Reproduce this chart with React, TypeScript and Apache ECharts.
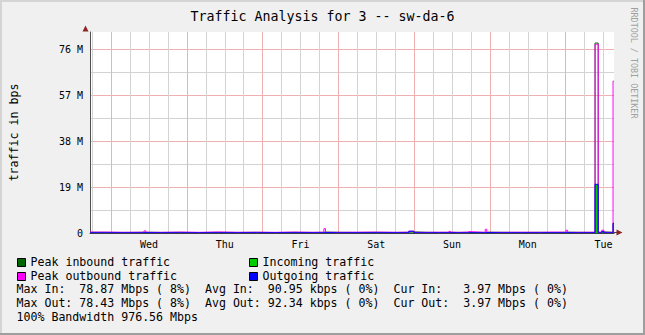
import { useEffect, useRef } from 'react';
import * as echarts from 'echarts';

const chartTitle = 'Traffic Analysis for 3 -- sw-da-6';
const yAxisName = 'traffic in bps';
const sideText = 'RRDTOOL / TOBI OETIKER';

// time in hours since Tuesday 00:00 of the first week
const hours = [17.3, 22, 28, 34.4, 35, 40, 46, 52, 58, 64, 70, 76, 82, 88, 91.4, 91.9, 96, 102, 108, 114, 118.3, 119.9, 124, 128, 131.0, 131.5, 134, 136.8, 137.3, 142.5, 143.0, 148, 154, 160, 164, 168.1, 168.6, 172, 177.3, 178.3, 179.4, 180.1, 183.0, 183.3];

// values in millions of bits per second
const peakIn = [0.3, 0.25, 0.3, 0.35, 0.25, 0.3, 0.2, 0.3, 0.25, 0.3, 0.2, 0.3, 0.25, 0.3, 0.4, 0.3, 0.25, 0.3, 0.25, 0.3, 0.5, 0.3, 0.25, 0.3, 0.35, 0.25, 0.3, 0.3, 0.25, 0.35, 0.3, 0.25, 0.3, 0.25, 0.3, 0.35, 0.3, 0.25, 82.7, 0.3, 0.5, 0.3, 4.3, 4.3];
const incoming = [0.1, 0.08, 0.1, 0.12, 0.09, 0.1, 0.08, 0.1, 0.09, 0.1, 0.08, 0.1, 0.09, 0.1, 0.12, 0.1, 0.09, 0.1, 0.09, 0.1, 0.2, 0.1, 0.09, 0.1, 0.11, 0.09, 0.1, 0.1, 0.09, 0.12, 0.1, 0.09, 0.1, 0.09, 0.1, 0.12, 0.1, 0.09, 21.2, 0.1, 0.3, 0.1, 4.16, 4.16];
const peakOut = [0.4, 0.3, 0.35, 0.9, 0.3, 0.4, 0.3, 0.45, 0.3, 0.35, 0.3, 0.4, 0.3, 0.35, 1.9, 0.3, 0.35, 0.4, 0.3, 0.35, 0.8, 0.3, 0.35, 0.3, 0.7, 0.3, 0.35, 0.6, 0.3, 1.6, 0.3, 0.35, 0.3, 0.4, 0.35, 1.2, 0.3, 0.35, 82.2, 0.3, 1.2, 0.3, 66.1, 66.1];
const outgoing = [0.1, 0.09, 0.1, 0.15, 0.1, 0.1, 0.09, 0.12, 0.1, 0.11, 0.1, 0.12, 0.1, 0.1, 0.2, 0.1, 0.1, 0.11, 0.1, 0.1, 0.75, 0.1, 0.1, 0.1, 0.15, 0.1, 0.1, 0.12, 0.1, 0.2, 0.1, 0.1, 0.1, 0.11, 0.1, 0.15, 0.1, 0.1, 21.2, 0.1, 0.6, 0.1, 4.16, 4.16];

// grid lines every 6 hours; midnights are major
const gridHours = [18, 24, 30, 36, 42, 48, 54, 60, 66, 72, 78, 84, 90, 96, 102, 108, 114, 120, 126, 132, 138, 144, 150, 156, 162, 168, 174, 180];
const dayNoonHours = [36, 60, 84, 108, 132, 156, 180];
const dayLabels = ['Wed', 'Thu', 'Fri', 'Sat', 'Sun', 'Mon', 'Tue'];

const legendLabels = ['Peak inbound traffic', 'Incoming traffic', 'Peak outbound traffic', 'Outgoing traffic'];
const legendColors = ['#006600', '#00CC00', '#FF00FF', '#0000FF'];
const statLines = [
  'Max In:  78.87 Mbps ( 8%)  Avg In:  90.95 kbps ( 0%)  Cur In:   3.97 Mbps ( 0%)',
  'Max Out: 78.43 Mbps ( 8%)  Avg Out: 92.34 kbps ( 0%)  Cur Out:  3.97 Mbps ( 0%)',
  '100% Bandwidth 976.56 Mbps',
];

export default function App() {
  const ref = useRef<HTMLDivElement>(null);
  useEffect(() => {
    const chart = echarts.init(ref.current!, null, { renderer: 'svg' });
    const mono = 'DejaVu Sans Mono';
    const red = '#EEB0B0';
    const gray = '#D3D3D3';
    const axisColor = '#404048';
    const arrowColor = '#8E2424';
    const xy = (vals: number[]) => hours.map((h, i) => [h, vals[i]]);

    const legendGraphics: any[] = [];
    const rowY0 = 261.7;
    const rowH = 13.8;
    legendLabels.forEach((label, i) => {
      const col = i % 2;
      const row = Math.floor(i / 2);
      const bx = col === 0 ? 17 : 249;
      const cy = rowY0 + row * rowH;
      legendGraphics.push({
        type: 'rect',
        shape: { x: bx + 0.5, y: Math.round(cy - 4) + 0.5, width: 8, height: 8 },
        style: { fill: legendColors[i], stroke: '#000', lineWidth: 1 },
      });
      legendGraphics.push({
        type: 'text',
        x: bx + 13.5,
        y: cy,
        style: { text: label, font: `11.6px ${mono}`, fill: '#000', textAlign: 'left', textVerticalAlign: 'middle' },
      });
    });
    statLines.forEach((line, i) => {
      legendGraphics.push({
        type: 'text',
        x: 16.5,
        y: rowY0 + (i + 2) * rowH,
        style: { text: line, font: `11.6px ${mono}`, fill: '#000', textAlign: 'left', textVerticalAlign: 'middle' },
      });
    });

    const option: any = {
      animation: false,
      backgroundColor: '#F0F0F0',
      grid: { left: 86, right: 31, top: 32, bottom: 102, show: true, backgroundColor: '#FFFFFF', borderWidth: 0 },
      xAxis: {
        type: 'value',
        min: 17.3,
        max: 183.3,
        z: 10,
        axisLine: { show: true, onZero: false, lineStyle: { color: axisColor, width: 1 } },
        axisTick: { show: false },
        splitLine: { show: false },
        axisLabel: {
          customValues: dayNoonHours,
          formatter: (v: number) => {
            const k = dayNoonHours.indexOf(v);
            return k >= 0 ? dayLabels[k] : '';
          },
          fontFamily: mono,
          fontSize: 10,
          color: '#000',
          margin: 6,
        },
      },
      yAxis: {
        type: 'value',
        min: 0,
        max: 87.5,
        interval: 10,
        name: yAxisName,
        nameLocation: 'middle',
        nameGap: 70,
        nameTextStyle: { fontFamily: mono, fontSize: 11.6, color: '#000' },
        axisLine: { show: true, lineStyle: { color: '#505050', width: 1 } },
        axisTick: { show: false },
        axisLabel: {
          fontFamily: mono,
          fontSize: 10,
          color: '#000',
          margin: 7,
          showMaxLabel: false,
          formatter: (v: number) => {
            if (v === 0) return '0';
            if (Math.abs(v % 20) > 1e-6) return '';
            return `${Math.round((v * 1e6) / 1048576)} M`;
          },
        },
        splitLine: { show: true, showMaxLine: false, lineStyle: { color: [red, gray], width: 1 } },
      },
      series: [
        {
          name: 'grid',
          type: 'line',
          data: [],
          silent: true,
          z: 1,
          markLine: {
            z: 1,
            silent: true,
            symbol: ['none', 'none'],
            label: { show: false },
            animation: false,
            data: gridHours.map((h) => ({
              xAxis: h,
              lineStyle: { color: h % 24 === 0 ? red : gray, width: 1, type: 'solid' },
            })),
          },
        },
        {
          name: 'Incoming traffic',
          type: 'line',
          step: 'end',
          data: xy(incoming),
          symbol: 'none',
          lineStyle: { width: 0, color: '#00CC00' },
          areaStyle: { color: '#00CC00', opacity: 1 },
          z: 2,
        },
        {
          name: 'Peak inbound traffic',
          type: 'line',
          step: 'end',
          data: xy(peakIn),
          symbol: 'none',
          lineStyle: { width: 1, color: '#006600' },
          z: 3,
        },
        {
          name: 'Peak outbound traffic',
          type: 'line',
          step: 'end',
          data: xy(peakOut),
          symbol: 'none',
          lineStyle: { width: 1, color: '#FF00FF' },
          z: 4,
        },
        {
          name: 'Outgoing traffic',
          type: 'line',
          step: 'end',
          data: xy(outgoing),
          symbol: 'none',
          lineStyle: { width: 1, color: '#0000FF' },
          z: 5,
        },
      ],
      graphic: [
        { type: 'rect', shape: { x: 0, y: 0, width: 645, height: 2 }, style: { fill: '#D4D4D4' } },
        { type: 'rect', shape: { x: 0, y: 0, width: 2, height: 335 }, style: { fill: '#D4D4D4' } },
        { type: 'rect', shape: { x: 643, y: 0, width: 2, height: 335 }, style: { fill: '#9E9E9E' } },
        { type: 'rect', shape: { x: 0, y: 333, width: 645, height: 2 }, style: { fill: '#9E9E9E' } },
        {
          type: 'text',
          x: 322.5,
          y: 16.5,
          style: { text: chartTitle, font: `13.3px ${mono}`, fill: '#000', textAlign: 'center', textVerticalAlign: 'middle' },
        },
        {
          type: 'text',
          x: 634,
          y: 63,
          rotation: -Math.PI / 2,
          style: { text: sideText, font: `8.4px ${mono}`, fill: '#A0A0A0', textAlign: 'center', textVerticalAlign: 'middle' },
        },
        { type: 'line', shape: { x1: 614, y1: 232.5, x2: 617, y2: 232.5 }, style: { stroke: axisColor, lineWidth: 1 } },
        { type: 'polygon', shape: { points: [[616.5, 229.5], [622.5, 232.5], [616.5, 235.5]] }, style: { fill: arrowColor } },
        { type: 'polygon', shape: { points: [[82.5, 31.5], [85.5, 25.5], [88.5, 31.5]] }, style: { fill: arrowColor } },
        ...legendGraphics,
      ],
    };
    chart.setOption(option);
    return () => chart.dispose();
  }, []);
  return <div ref={ref} style={{ position: 'absolute', left: 0, top: 0, width: 645, height: 335 }} />;
}
